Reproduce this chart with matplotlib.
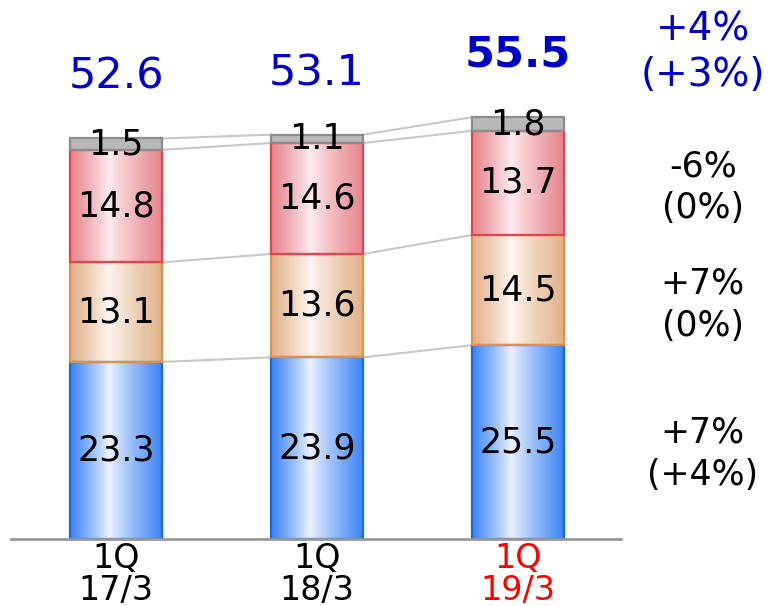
import matplotlib
matplotlib.use("Agg")
import matplotlib.pyplot as plt
import numpy as np
from matplotlib.colors import to_rgb
from matplotlib.patches import Rectangle

# quarterly data (stacked from bottom to top)
quarters = ["1Q", "1Q", "1Q"]
years = ["17/3", "18/3", "19/3"]
label_colors = ["black", "black", "#ff0000"]
blue_seg = [23.3, 23.9, 25.5]
orange_seg = [13.1, 13.6, 14.5]
red_seg = [14.8, 14.6, 13.7]
gray_seg = [1.5, 1.1, 1.8]
totals = [52.6, 53.1, 55.5]
# growth rates shown to the right: total, red, orange, blue
total_growth = ("+4%", "(+3%)")
red_growth = ("-6%", "(0%)")
orange_growth = ("+7%", "(0%)")
blue_growth = ("+7%", "(+4%)")

# (edge colour, centre colour, border colour) per segment
styles = [
    ("#3a82f5", "#ecf3ff", "#1a68dc"),
    ("#e0b088", "#fdf6f0", "#dc914c"),
    ("#e6828b", "#fdecef", "#e04550"),
    ("#b9b9b9", "#b9b9b9", "#8c8c8c"),
]

fig = plt.figure(figsize=(7.72, 6.06), dpi=100)
ax = fig.add_axes([0, 0, 1, 1])
ax.axis("off")

width = 0.458
t = np.linspace(0, 1, 300)
wgt = np.where(t < 0.42, (0.42 - t) / 0.42, (t - 0.42) / 0.58) ** 0.9


def gradient_bar(x, bottom, height, edge, mid, border):
    e = np.array(to_rgb(edge))
    m = np.array(to_rgb(mid))
    rgb = m + (e - m) * wgt[:, None]
    ax.imshow(rgb[None, :, :], extent=[x - width / 2, x + width / 2, bottom, bottom + height],
              aspect="auto", interpolation="bilinear", zorder=2)
    ax.add_patch(Rectangle((x - width / 2, bottom), width, height, fill=False,
                           ec=border, lw=1.6, zorder=3))


segments = [blue_seg, orange_seg, red_seg, gray_seg]
x = np.arange(len(totals))
levels = []
for i in x:
    bottom = 0.0
    tops = []
    for seg, (edge, mid, border) in zip(segments, styles):
        gradient_bar(i, bottom, seg[i], edge, mid, border)
        ax.text(i, bottom + seg[i] / 2, f"{seg[i]:.1f}", ha="center", va="center",
                fontsize=25, color="black", zorder=5)
        bottom += seg[i]
        tops.append(bottom)
    levels.append(tops)

# thin connectors between neighbouring bars
for i in range(len(x) - 1):
    for a, b in zip(levels[i], levels[i + 1]):
        ax.plot([i + width / 2, i + 1 - width / 2], [a, b], color="#c8c8c8", lw=1.5, zorder=1)

# totals above bars
for i in x:
    ax.text(i, totals[i] + 8.2, f"{totals[i]:.1f}", ha="center", va="center", fontsize=31,
            color="#0000cc", fontweight="bold" if i == len(x) - 1 else "normal")

# baseline
ax.plot([-0.52, 2.51], [0, 0], color="#999999", lw=2, zorder=4)

# category labels
for i in x:
    ax.text(i, -2.5, quarters[i], ha="center", va="center", fontsize=24, color=label_colors[i])
    ax.text(i, -6.8, years[i], ha="center", va="center", fontsize=24, color=label_colors[i])

# growth annotations, right of the last bar
gx = 2.92
ax.text(gx, totals[-1] + 8.6, "\n".join(total_growth), ha="center", va="center",
        fontsize=28, color="#0000cc", linespacing=1.25)
for y, g in zip([46.3, 30.8, 11.2], [red_growth, orange_growth, blue_growth]):
    ax.text(gx, y, "\n".join(g), ha="center", va="center", fontsize=25,
            color="black", linespacing=1.3)

s = 7.6
ax.set_xlim(-116 / 201, (772 - 116) / 201)
ax.set_ylim((539 - 606) / s, 539 / s)

fig.savefig("out.png", dpi=100)
